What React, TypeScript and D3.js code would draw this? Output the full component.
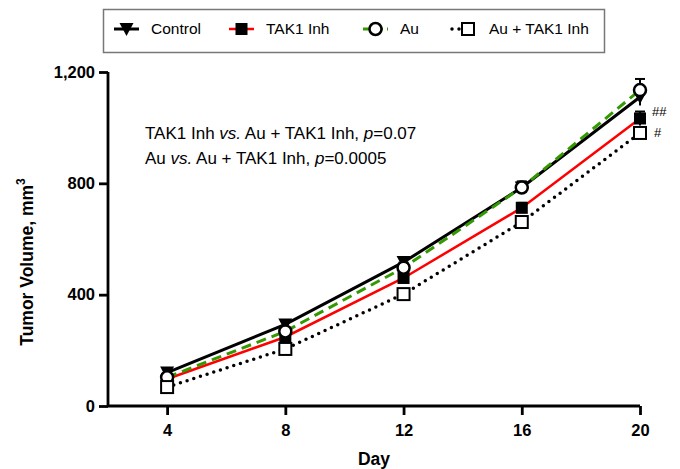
import React, { useRef, useEffect } from 'react';
import * as d3 from 'd3';

const days = [4, 8, 12, 16, 20];
const control = [120, 293, 517, 785, 1110];
const controlErr = [12, 15, 18, 20, 30];
const tak1 = [97, 248, 460, 712, 1033];
const tak1Err = [10, 12, 15, 18, 25];
const au = [103, 268, 497, 785, 1135];
const auErr = [10, 14, 18, 22, 40];
const auTak1 = [68, 205, 402, 661, 981];
const auTak1Err = [8, 10, 12, 15, 20];
const yTicks = [0, 400, 800, 1200];
const xTicks = [4, 8, 12, 16, 20];

const series = [
  { name: 'Control', values: control, err: controlErr, color: '#000', width: 3, dash: null, marker: 'triangle' },
  { name: 'TAK1 Inh', values: tak1, err: tak1Err, color: '#ff0000', width: 2.5, dash: null, marker: 'square' },
  { name: 'Au', values: au, err: auErr, color: '#339900', width: 3, dash: '10,6', marker: 'circle' },
  { name: 'Au + TAK1 Inh', values: auTak1, err: auTak1Err, color: '#000', width: 3, dash: '0,7', marker: 'openSquare' },
];

function drawMarker(g: any, type: string, cx: number, cy: number) {
  if (type === 'triangle') {
    g.append('path')
      .attr('d', `M${cx - 7},${cy - 6}L${cx + 7},${cy - 6}L${cx},${cy + 7}Z`)
      .attr('fill', '#000');
  } else if (type === 'square') {
    g.append('rect')
      .attr('x', cx - 6).attr('y', cy - 6).attr('width', 12).attr('height', 12)
      .attr('fill', '#000');
  } else if (type === 'circle') {
    g.append('circle')
      .attr('cx', cx).attr('cy', cy).attr('r', 6)
      .attr('fill', '#fff').attr('stroke', '#000').attr('stroke-width', 2.5);
  } else {
    g.append('rect')
      .attr('x', cx - 6).attr('y', cy - 6).attr('width', 12).attr('height', 12)
      .attr('fill', '#fff').attr('stroke', '#000').attr('stroke-width', 2);
  }
}

export default function App() {
  const svgRef = useRef<SVGSVGElement>(null);

  useEffect(() => {
    if (!svgRef.current) return;
    const svg = d3.select(svgRef.current);
    svg.selectAll('*').remove();

    const font = 'Arial, "Liberation Sans", Helvetica, sans-serif';
    const x = d3.scaleLinear().domain([2, 20]).range([108, 640]);
    const y = d3.scaleLinear().domain([0, 1200]).range([406, 72]);

    // Axes
    const yAxis = svg.append('g')
      .attr('transform', `translate(${x(2)},0)`)
      .call(d3.axisLeft(y).tickValues(yTicks).tickSize(9).tickPadding(4).tickFormat(d3.format(',')));
    yAxis.select('.domain').attr('stroke-width', 2.8).attr('d', `M0,${y(0)}V${y(1200)}`);
    yAxis.selectAll('.tick line').attr('stroke-width', 2.8);
    yAxis.selectAll('.tick text')
      .attr('font-family', font).attr('font-size', 16.5).attr('font-weight', 'bold').attr('fill', '#000');

    const xAxis = svg.append('g')
      .attr('transform', `translate(0,${y(0)})`)
      .call(d3.axisBottom(x).tickValues(xTicks).tickSize(9).tickPadding(9));
    xAxis.select('.domain').attr('stroke-width', 2.8).attr('d', `M${x(2)},0H${x(20)}`);
    xAxis.selectAll('.tick line').attr('stroke-width', 2.8);
    xAxis.selectAll('.tick text')
      .attr('font-family', font).attr('font-size', 16.5).attr('font-weight', 'bold').attr('fill', '#000');

    // Axis titles
    svg.append('text')
      .attr('transform', `translate(33,262) rotate(-90)`)
      .attr('text-anchor', 'middle')
      .attr('font-family', font).attr('font-size', 17.5).attr('font-weight', 'bold')
      .text('Tumor Volume, mm')
      .append('tspan').attr('dy', -8).attr('font-size', 12).text('3');

    svg.append('text')
      .attr('x', (x(2) + x(20)) / 2).attr('y', 465)
      .attr('text-anchor', 'middle')
      .attr('font-family', font).attr('font-size', 17.5).attr('font-weight', 'bold')
      .text('Day');

    // Series lines
    series.forEach(s => {
      const line = d3.line<number>()
        .x((_, i) => x(days[i]))
        .y(d => y(d));
      const p = svg.append('path')
        .datum(s.values)
        .attr('fill', 'none')
        .attr('stroke', s.color)
        .attr('stroke-width', s.width)
        .attr('d', line);
      if (s.dash) {
        p.attr('stroke-dasharray', s.dash);
        if (s.dash.startsWith('0')) p.attr('stroke-linecap', 'round').attr('stroke-width', 3.5);
      }
    });

    // Error bars and markers
    series.forEach(s => {
      const g = svg.append('g');
      s.values.forEach((v, i) => {
        const cx = x(days[i]);
        g.append('line')
          .attr('x1', cx).attr('x2', cx)
          .attr('y1', y(v - s.err[i])).attr('y2', y(v + s.err[i]))
          .attr('stroke', '#000').attr('stroke-width', 2);
        g.append('line')
          .attr('x1', cx - 5).attr('x2', cx + 5)
          .attr('y1', y(v + s.err[i])).attr('y2', y(v + s.err[i]))
          .attr('stroke', '#000').attr('stroke-width', 2);
        drawMarker(g, s.marker, cx, y(v));
      });
    });

    // Significance marks
    svg.append('text')
      .attr('x', 652).attr('y', y(tak1[4]) - 2)
      .attr('font-family', font).attr('font-size', 13)
      .text('##');
    svg.append('text')
      .attr('x', 654).attr('y', y(auTak1[4]) + 4)
      .attr('font-family', font).attr('font-size', 13)
      .text('#');

    // Annotation
    const ann = svg.append('g').attr('font-family', font).attr('font-size', 17);
    const t1 = ann.append('text').attr('x', 145).attr('y', 139);
    t1.append('tspan').text('TAK1 Inh ');
    t1.append('tspan').attr('font-style', 'italic').text('vs.');
    t1.append('tspan').text(' Au + TAK1 Inh, ');
    t1.append('tspan').attr('font-style', 'italic').text('p');
    t1.append('tspan').text('=0.07');
    const t2 = ann.append('text').attr('x', 145).attr('y', 164);
    t2.append('tspan').text('Au ');
    t2.append('tspan').attr('font-style', 'italic').text('vs.');
    t2.append('tspan').text(' Au + TAK1 Inh, ');
    t2.append('tspan').attr('font-style', 'italic').text('p');
    t2.append('tspan').text('=0.0005');

    // Legend
    const legend = svg.append('g');
    legend.append('rect')
      .attr('x', 103.5).attr('y', 9.5).attr('width', 501).attr('height', 43)
      .attr('fill', '#fff').attr('stroke', '#777').attr('stroke-width', 1.5);
    const lx = [114, 229, 363, 452];
    const ly = 29;
    series.forEach((s, i) => {
      const ln = legend.append('line')
        .attr('x1', lx[i]).attr('x2', lx[i] + 25)
        .attr('y1', ly).attr('y2', ly)
        .attr('stroke', s.color).attr('stroke-width', s.width);
      if (s.dash) {
        if (s.dash.startsWith('0')) {
          ln.attr('stroke-dasharray', s.dash).attr('stroke-linecap', 'round').attr('stroke-width', 3.5);
        } else {
          ln.attr('stroke-dasharray', '8,4');
        }
      }
      drawMarker(legend, s.marker, i === 3 ? lx[i] + 16 : lx[i] + 12.5, ly);
      legend.append('text')
        .attr('x', [151, 266, 400, 489][i]).attr('y', ly + 5)
        .attr('font-family', font).attr('font-size', 15.5)
        .text(s.name);
    });
  }, []);

  return (
    <svg
      ref={svgRef}
      width={680}
      height={469}
      viewBox="0 0 680 469"
      style={{ position: 'absolute', left: 0, top: 0, background: '#fff' }}
    />
  );
}
